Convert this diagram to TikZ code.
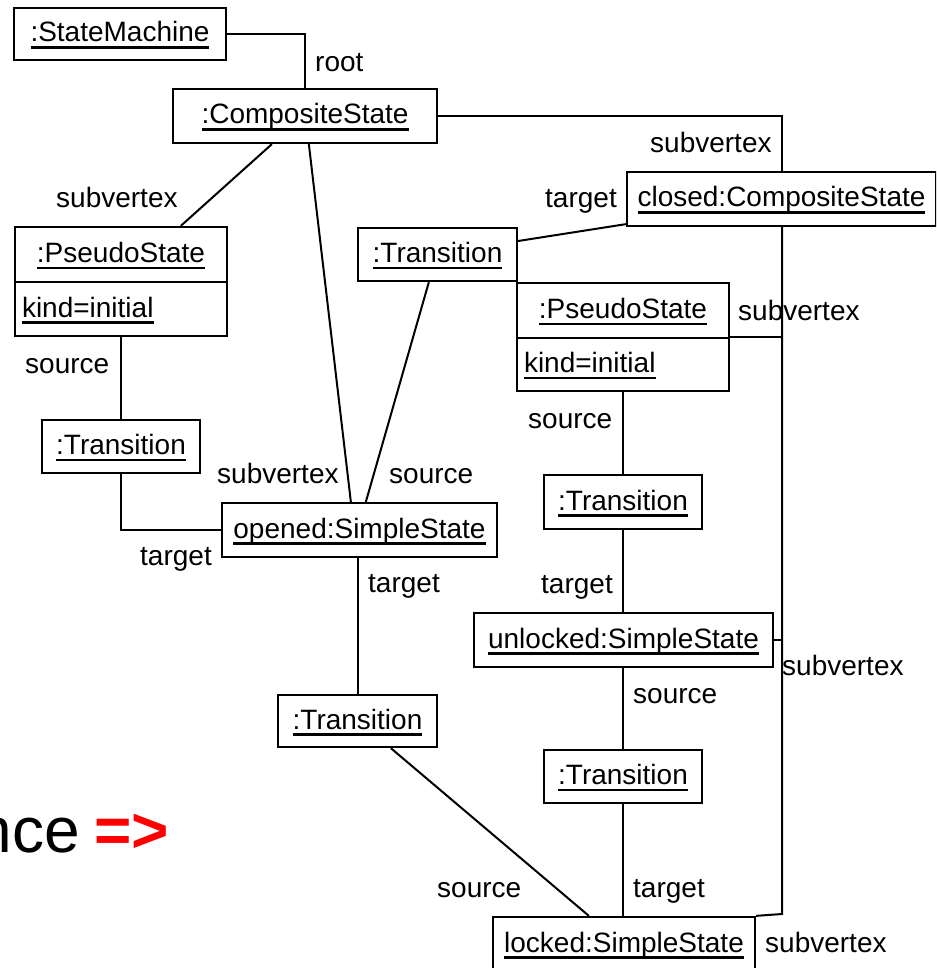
\documentclass[tikz,border=0pt]{standalone}
\usepackage{fontspec}
\setmainfont{Liberation Sans}
\usetikzlibrary{calc}
% underlined object name, with a firm underline close to the baseline
\newcommand{\uln}[1]{\setbox0\hbox{#1}\rlap{\rule[-6.6pt]{\wd0}{2.6pt}}\box0}

\begin{document}
\begin{tikzpicture}[x=1pt,y=-1pt,
  obj/.style={draw, line width=2.3pt, inner sep=0pt, text height=20pt, text depth=4pt,
              font=\fontsize{28}{34}\selectfont},
  role/.style={inner sep=0pt, anchor=base west, font=\fontsize{28}{34}\selectfont},
  link/.style={line width=2pt}]
\useasboundingbox (0,0) rectangle (936,968);
\clip (0,0) rectangle (936,968);

% objects
\node[obj, minimum width=212pt, minimum height=52pt] (sm) at (120,34) {\uln{:StateMachine}};
\node[obj, minimum width=264pt, minimum height=54pt] (cs) at (305,116) {\uln{:CompositeState}};
\node[obj, minimum width=309pt, minimum height=54pt] (closed) at (781.5,199) {\uln{closed:CompositeState}};

\node[obj, minimum width=212pt, minimum height=55pt] (ps1) at (121,254.5) {\uln{:PseudoState}};
\node[obj, minimum width=212pt, minimum height=54pt] (ps1k) at (121,309) {\makebox[198pt][l]{\uln{kind=initial}}};

\node[obj, minimum width=159pt, minimum height=53pt] (tr0) at (437.5,254.5) {\uln{:Transition}};

\node[obj, minimum width=212pt, minimum height=55pt] (ps2) at (623,310.5) {\uln{:PseudoState}};
\node[obj, minimum width=212pt, minimum height=53pt] (ps2k) at (623,364.5) {\makebox[198pt][l]{\uln{kind=initial}}};

\node[obj, minimum width=158pt, minimum height=53pt] (tr1) at (121,446.5) {\uln{:Transition}};
\node[obj, minimum width=275pt, minimum height=54pt] (opened) at (359.5,530) {\uln{opened:SimpleState}};
\node[obj, minimum width=158pt, minimum height=54pt] (tr2) at (623,502) {\uln{:Transition}};
\node[obj, minimum width=299pt, minimum height=54pt] (unlocked) at (623.5,640) {\uln{unlocked:SimpleState}};
\node[obj, minimum width=159pt, minimum height=52pt] (tr3) at (357.5,721) {\uln{:Transition}};
\node[obj, minimum width=158pt, minimum height=53pt] (tr4) at (623,776.5) {\uln{:Transition}};
\node[obj, minimum width=262pt, minimum height=54pt] (locked) at (624,944) {\uln{locked:SimpleState}};

% links
\draw[link] (sm.east) -| (cs.north);
\draw[link] (cs.east) -| (closed.north);
\draw[link] ([xshift=100pt]cs.south west) -- ([xshift=167pt]ps1.north west);
\draw[link] ([xshift=137pt]cs.south west) -- ([xshift=130pt]opened.north west);
\draw[link] ([yshift=13.5pt]tr0.east) -- ([yshift=3pt]closed.south west);
\draw[link] ([xshift=72pt]tr0.south west) -- ([xshift=145pt]opened.north west);

\coordinate (busend) at (782,914);
\draw[link] (closed.south -| busend) -- (busend) -- (locked.north east);
\draw[link] (ps2k.north east) -- (ps2k.north east -| busend);
\draw[link] (unlocked.east) -- (unlocked.east -| busend);

\draw[link] (ps1k.south) -- (ps1k.south |- tr1.north);
\draw[link] (tr1.south) |- (opened.west);
\draw[link] (tr3.north) -- (tr3.north |- opened.south);
\draw[link] ([xshift=114pt]tr3.south west) -- ([xshift=97pt]locked.north west);

\draw[link] (ps2k.south) -- (tr2.north);
\draw[link] (tr2.south) -- (tr2.south |- unlocked.north);
\draw[link] (tr4.north) -- (tr4.north |- unlocked.south);
\draw[link] (tr4.south) -- (tr4.south |- locked.north);

% role names
\node[role] (rRoot) at (315,72) {root};
\node[role] (rSubTop) at (650,153) {subvertex};
\node[role] (rSubPs1) at (56,208) {subvertex};
\node[role] (rTgtClosed) at (545,208) {target};
\node[role] (rSubPs2) at (738,320) {subvertex};
\node[role] (rSrcPs1) at (25,373) {source};
\node[role] (rSubOpened) at (217,483) {subvertex};
\node[role] (rSrcOpened) at (389,483) {source};
\node[role] (rTgtTr1) at (140,565) {target};
\node[role] (rTgtOpened) at (368,592) {target};
\node[role] (rSrcPs2) at (528,428) {source};
\node[role] (rTgtUnl) at (541,593) {target};
\node[role] (rSubUnl) at (782,675) {subvertex};
\node[role] (rSrcUnl) at (633,703) {source};
\node[role] (rSrcLocked) at (437,897) {source};
\node[role] (rTgtLocked) at (633,897) {target};
\node[role] (rSubLocked) at (765,952) {subvertex};

% running text at the left margin
\node[inner sep=0pt, anchor=base east, font=\fontsize{64}{70}\selectfont] (seqtail) at (80,852) {nce};
\node[inner sep=0pt, anchor=base west, text=red, font=\fontsize{64}{70}\selectfont\bfseries] (arrowmark) at (94,852) {=>};
\end{tikzpicture}
\end{document}
